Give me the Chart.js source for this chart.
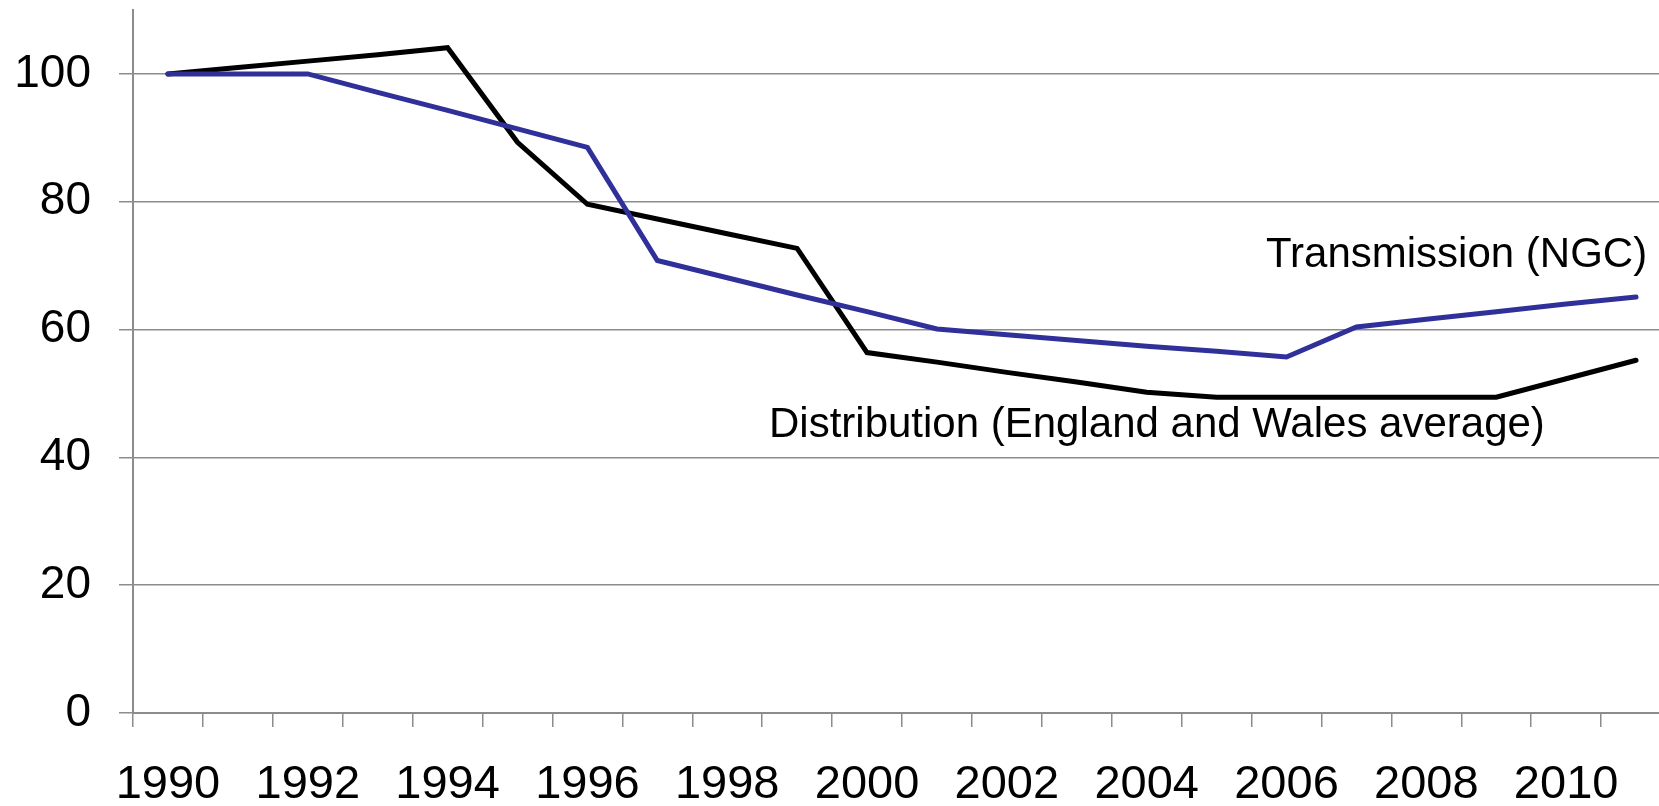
<!DOCTYPE html>
<html>
<head>
<meta charset="utf-8">
<script src="https://cdn.jsdelivr.net/npm/chart.js@4"></script>
<style>
  html, body { margin: 0; padding: 0; background: #fff; overflow: hidden; }
  #wrap { position: relative; width: 1671px; height: 806px; }
</style>
</head>
<body>
<div id="wrap"><canvas id="chart"></canvas></div>
<script>
const years = ["1990", "1991", "1992", "1993", "1994", "1995", "1996", "1997", "1998", "1999", "2000",
  "2001", "2002", "2003", "2004", "2005", "2006", "2007", "2008", "2009", "2010", "2011"];
const xTickLabels = ["1990", "1992", "1994", "1996", "1998", "2000", "2002", "2004", "2006", "2008", "2010"];
const yTicks = [0, 20, 40, 60, 80, 100];

const distribution = [100, 101, 102, 103, 104.1, 89.3, 79.6, 77.3, 75.0, 72.7, 56.4,
  54.9, 53.3, 51.8, 50.2, 49.4, 49.4, 49.4, 49.4, 49.4, 52.3, 55.2];
const transmission = [100, 100, 100, 97.1, 94.3, 91.4, 88.5, 70.8, 68.1, 65.4, 62.8,
  60.1, 59.2, 58.3, 57.4, 56.6, 55.7, 60.4, 61.6, 62.8, 64.0, 65.1];

const seriesLabels = ["Distribution (England and Wales average)", "Transmission (NGC)"];

const FONT = "'Liberation Sans', Arial, sans-serif";
const GREY = "#8c8c8c";

// text labels next to the lines
const lineLabels = {
  id: "lineLabels",
  afterDatasetsDraw(chart) {
    const ctx = chart.ctx;
    ctx.save();
    ctx.font = "42px " + FONT;
    ctx.fillStyle = "#000";
    ctx.textAlign = "left";
    ctx.textBaseline = "alphabetic";
    ctx.fillText(seriesLabels[1], 1266, 267);
    ctx.fillText(seriesLabels[0], 769, 437);
    ctx.restore();
  },
};

new Chart(document.getElementById("chart").getContext("2d"), {
  type: "line",
  data: {
    labels: years,
    datasets: [
      {
        label: seriesLabels[0],
        data: distribution,
        borderColor: "#000000",
        borderWidth: 5,
        borderCapStyle: "round",
        pointRadius: 0,
        tension: 0,
        order: 1,
      },
      {
        label: seriesLabels[1],
        data: transmission,
        borderColor: "#30309a",
        borderWidth: 5,
        borderCapStyle: "round",
        pointRadius: 0,
        tension: 0,
        order: 0,
      },
    ],
  },
  options: {
    responsive: true,
    maintainAspectRatio: false,
    animation: false,
    layout: { padding: { top: 10, right: 0, left: 0, bottom: 0 } },
    plugins: {
      legend: { display: false },
      tooltip: { enabled: false },
    },
    scales: {
      x: {
        offset: true,
        grid: {
          offset: true,
          drawOnChartArea: false,
          color: GREY,
          lineWidth: 1.5,
          tickLength: 14,
        },
        border: { color: GREY, width: 2 },
        ticks: {
          autoSkip: false,
          maxRotation: 0,
          padding: 30,
          color: "#000",
          font: { family: FONT, size: 47 },
          callback: (v, i) => (xTickLabels.includes(years[i]) ? years[i] : ""),
        },
        afterFit: (scale) => {
          scale.height = 93;
          scale.paddingLeft = 0;
          scale.paddingRight = 0;
        },
      },
      y: {
        min: 0,
        max: 110,
        grid: {
          color: GREY,
          lineWidth: 1.5,
          tickLength: 14,
        },
        border: { color: GREY, width: 2 },
        ticks: {
          padding: 28,
          color: "#000",
          font: { family: FONT, size: 46 },
        },
        afterBuildTicks: (scale) => {
          scale.ticks = yTicks.map((v) => ({ value: v }));
        },
        afterFit: (scale) => {
          scale.width = 133;
          scale.paddingTop = 0;
          scale.paddingBottom = 0;
        },
      },
    },
  },
  plugins: [lineLabels],
});
</script>
</body>
</html>
